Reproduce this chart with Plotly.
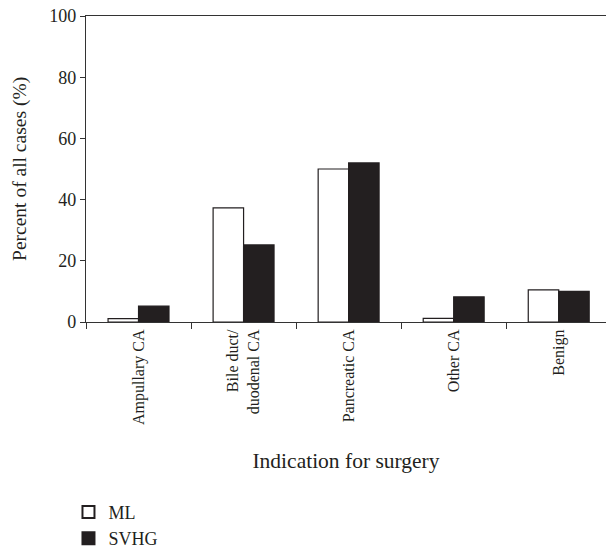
import plotly.graph_objects as go

categories = ["Ampullary CA", "Bile duct/<br>duodenal CA", "Pancreatic CA", "Other CA", "Benign"]
ml_values = [1.1, 37.3, 50.0, 1.2, 10.5]
svhg_values = [5.2, 25.2, 52.0, 8.2, 10.0]
y_ticks = [0, 20, 40, 60, 80, 100]
y_title = "Percent of all cases (%)"
x_title = "Indication for surgery"

FONT = "Liberation Serif"
INK = "#231f20"

fig = go.Figure()
fig.add_trace(go.Bar(
    name="ML", x=categories, y=ml_values,
    marker=dict(color="white", line=dict(color=INK, width=1.2)),
))
fig.add_trace(go.Bar(
    name="SVHG", x=categories, y=svhg_values,
    marker=dict(color=INK, line=dict(color=INK, width=1.2)),
))

fig.update_layout(
    width=606, height=548,
    margin=dict(l=86, r=0, t=16, b=226, autoexpand=False),
    paper_bgcolor="white", plot_bgcolor="white",
    barmode="group", bargap=0.42, bargroupgap=0,
    font=dict(family=FONT, color=INK, size=16),
    showlegend=True,
    legend=dict(xref="container", yref="container", x=0.113, y=0.099,
                xanchor="left", yanchor="top",
                orientation="v", font=dict(size=18, family=FONT, color=INK),
                tracegroupgap=0, itemsizing="constant", bgcolor="rgba(0,0,0,0)"),
    xaxis=dict(
        range=[-0.5, 4.45], showline=True, linecolor="#333", linewidth=1.2,
        mirror=True, ticks="outside", tickson="boundaries", ticklen=6,
        tickcolor="#333", tickangle=-90, tickfont=dict(size=16, family=FONT, color=INK),
        title=dict(text=x_title, font=dict(size=21.5, family=FONT, color=INK),
                   standoff=28),
        showgrid=False, zeroline=False, automargin=True,
    ),
    yaxis=dict(
        range=[0, 100], tickvals=y_ticks, showline=True, linecolor="#333", linewidth=1.2,
        ticks="outside", ticklen=5, tickcolor="#333",
        tickfont=dict(size=18, family=FONT, color=INK),
        showgrid=False, zeroline=False, automargin=False,
    ),
    annotations=[dict(
        text=y_title, xref="paper", yref="paper", x=-0.127, y=0.5,
        xanchor="center", yanchor="middle", textangle=-90, showarrow=False,
        font=dict(size=19.5, family=FONT, color=INK),
    )],
)

fig.write_html(
    "out.html",
    config={"displayModeBar": False},
    post_script="document.body.style.margin='0';document.body.style.overflow='hidden';",
)
